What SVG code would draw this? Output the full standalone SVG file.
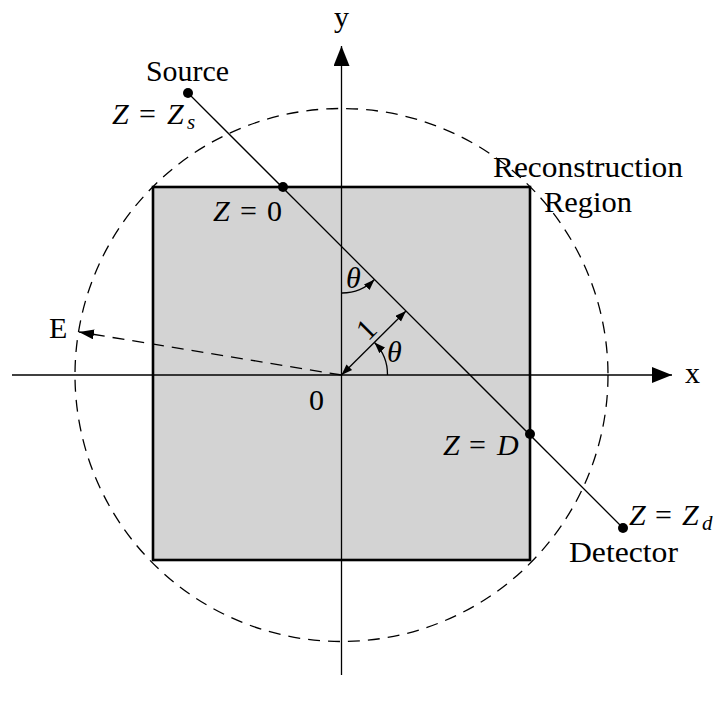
<svg xmlns="http://www.w3.org/2000/svg" width="713" height="702" viewBox="0 0 713 702">
<style>
text{font-size:30px;fill:#000}
.m{font-style:italic}
.up{font-style:normal}
.thin{stroke:#000;stroke-width:1.3;fill:none}
.dash{stroke:#000;stroke-width:1.3;fill:none;stroke-dasharray:12 8}
.dot{fill:#000}
</style>
<defs>
<marker id="big" markerUnits="userSpaceOnUse" markerWidth="22" markerHeight="18" refX="20" refY="8" orient="auto">
<path d="M0,0 L20,8 L0,16 Z" fill="#000"/>
</marker>
<marker id="med" markerUnits="userSpaceOnUse" markerWidth="16" markerHeight="12" refX="15" refY="5" orient="auto">
<path d="M0,0 L15,5 L0,10 Z" fill="#000"/>
</marker>
<marker id="sm" markerUnits="userSpaceOnUse" markerWidth="12" markerHeight="10" refX="11" refY="4" orient="auto">
<path d="M0,0 L11,4 L0,8 Z" fill="#000"/>
</marker>
<marker id="smS" markerUnits="userSpaceOnUse" markerWidth="12" markerHeight="10" refX="0" refY="4" orient="auto">
<path d="M11,0 L0,4 L11,8 Z" fill="#000"/>
</marker>
</defs>

<g id="region">
<rect x="153" y="187" width="377" height="373" fill="#d3d3d3" stroke="#000" stroke-width="2.6"/>
</g>

<g id="circle">
<circle cx="341.5" cy="375" r="266.5" class="dash"/>
</g>

<g id="connectors">
<line id="y-axis" x1="341.5" y1="675" x2="341.5" y2="46" class="thin" marker-end="url(#big)"/>
<line id="x-axis" x1="12" y1="375" x2="672" y2="375" class="thin" marker-end="url(#big)"/>
<line id="ray" x1="188" y1="93" x2="623" y2="528" class="thin"/>
<line id="e-arrow" x1="341.5" y1="375" x2="79" y2="332" class="dash" marker-end="url(#med)"/>
<line id="perp" x1="341.5" y1="375" x2="406" y2="311" class="thin" marker-start="url(#smS)" marker-end="url(#sm)"/>
<path id="arc-theta1" d="M341.5,293 A46,46 0 0 0 374.5,279.5" class="thin" marker-end="url(#sm)"/>
<path id="arc-theta2" d="M387.5,375 A46,46 0 0 0 374.5,342.5" class="thin" marker-end="url(#sm)"/>
</g>

<g font-family="Liberation Serif, DejaVu Serif, serif">
<g id="source">
<circle cx="188" cy="93" r="5" class="dot"/>
<text x="146" y="81" textLength="83" lengthAdjust="spacingAndGlyphs">Source</text>
<text y="124" class="m"><tspan x="112">Z</tspan><tspan x="139" class="up">=</tspan><tspan x="167">Z</tspan><tspan x="187" font-size="21" dy="5">s</tspan></text>
</g>

<g id="entry">
<circle cx="283" cy="187" r="5" class="dot"/>
<text y="221" class="m"><tspan x="213">Z</tspan><tspan x="240" class="up">=</tspan><tspan x="267" class="up">0</tspan></text>
</g>

<g id="exit">
<circle cx="530" cy="434" r="5" class="dot"/>
<text y="455" class="m"><tspan x="443">Z</tspan><tspan x="469" class="up">=</tspan><tspan x="497">D</tspan></text>
</g>

<g id="detector">
<circle cx="623" cy="528" r="5" class="dot"/>
<text y="525" class="m"><tspan x="629">Z</tspan><tspan x="655" class="up">=</tspan><tspan x="682">Z</tspan><tspan x="702" font-size="21" dy="5">d</tspan></text>
<text x="569" y="562" textLength="109" lengthAdjust="spacingAndGlyphs">Detector</text>
</g>

<g id="labels">
<text x="341.5" y="27" text-anchor="middle">y</text>
<text x="685" y="383">x</text>
<text x="49" y="338">E</text>
<text x="309" y="410" font-size="34">0</text>
<text x="493" y="177" textLength="190" lengthAdjust="spacingAndGlyphs">Reconstruction</text>
<text x="544" y="212" textLength="88" lengthAdjust="spacingAndGlyphs">Region</text>
<text x="346" y="288" class="m" font-size="27">θ</text>
<text x="387" y="362" class="m" font-size="27">θ</text>
<text x="0" y="0" transform="translate(367,330) rotate(-45)" text-anchor="middle" dy="9" font-size="27">1</text>
</g>
</g>
</svg>
